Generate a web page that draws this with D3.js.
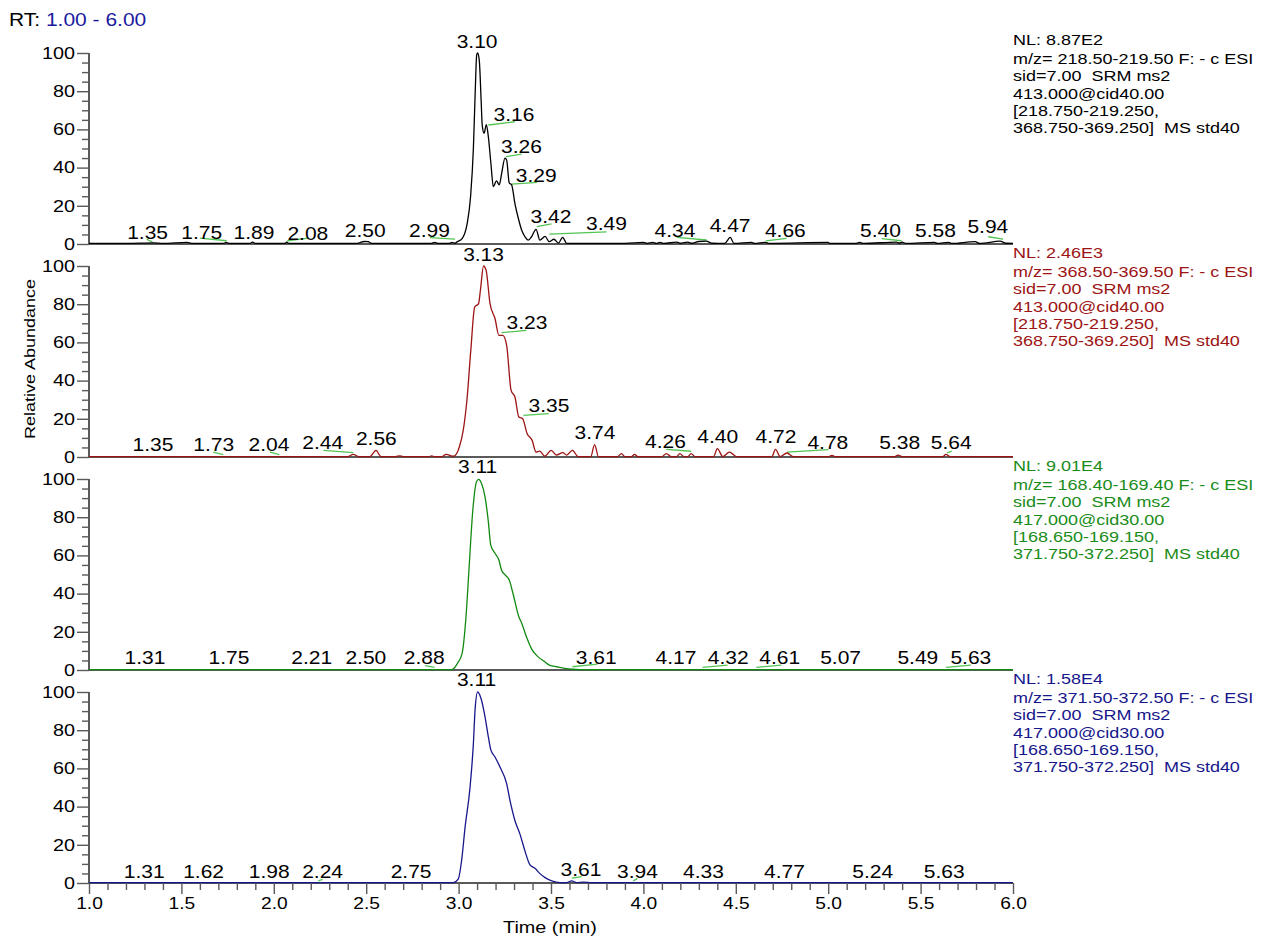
<!DOCTYPE html>
<html>
<head>
<meta charset="utf-8">
<script src="https://cdn.jsdelivr.net/npm/d3@7"></script>
<style>
  body { margin: 0; background: #fff; }
  svg { font-family: "Liberation Sans", Arial, sans-serif; }
  text { white-space: pre; }
</style>
</head>
<body>
<svg id="chart" width="1263" height="936"></svg>
<script>
// chromatogram traces: [time (min), relative abundance %]
const trace1 = [
  [1.00,0.3],[1.20,0.3],[1.35,0.6],[1.40,0.3],[1.53,0.9],[1.56,0.3],[1.73,0.3],[1.74,0.9],[1.76,0.3],
  [1.87,0.3],[1.885,1.0],[1.90,0.3],[2.06,0.3],[2.07,1.0],[2.08,0.3],[2.45,0.3],[2.49,1.3],[2.51,1.2],
  [2.53,0.3],[2.85,0.3],[2.87,0.9],[2.89,0.3],[2.95,0.3],[2.965,0.9],[2.98,0.4],[2.99,1.0],[3.02,3.0],
  [3.045,10],[3.065,25],[3.08,50],[3.09,80],[3.098,99],[3.103,100],[3.112,96],[3.122,75],[3.128,62],
  [3.138,58],[3.15,62.5],[3.16,57],[3.175,42],[3.188,30],[3.205,33],[3.22,31],[3.233,37],[3.251,45],
  [3.26,44],[3.274,32],[3.287,31],[3.305,21],[3.323,13.5],[3.341,7.3],[3.359,3.8],[3.377,2],[3.395,3.8],
  [3.419,7.7],[3.44,2],[3.468,4],[3.49,1.2],[3.516,2.5],[3.54,0.5],[3.563,3.5],[3.585,0.3],[3.9,0.3],
  [4.0,0.8],[4.02,0.3],[4.05,0.8],[4.07,0.3],[4.09,0.9],[4.11,0.3],[4.18,1.0],[4.20,0.4],[4.24,1.0],
  [4.26,0.4],[4.30,1.3],[4.34,1.5],[4.37,0.4],[4.44,0.3],[4.47,3.5],[4.49,0.3],[4.585,0.9],[4.60,0.3],
  [4.66,0.9],[4.68,0.3],[5.00,0.8],[5.01,0.3],[5.15,0.3],[5.17,0.9],[5.19,0.3],[5.37,1.0],[5.385,0.4],
  [5.40,1.0],[5.42,0.3],[5.575,0.9],[5.59,0.3],[5.65,0.9],[5.67,0.3],[5.795,1.2],[5.82,0.3],[5.93,1.5],
  [5.96,0.4],[6.00,0.3]
];
const trace2 = [
  [1.00,0.2],[2.40,0.2],[2.43,1.4],[2.46,0.2],[2.52,0.2],[2.553,3.5],[2.58,0.2],[2.66,0.2],[2.68,0.6],
  [2.70,0.2],[2.84,0.2],[2.854,0.6],[2.87,0.2],[2.91,0.2],[2.932,1.4],[2.973,0.4],[3.004,5.2],[3.025,13.9],
  [3.045,29.7],[3.066,55.8],[3.087,78.5],[3.108,80.3],[3.118,87.3],[3.135,100],[3.149,97.7],[3.17,80.3],
  [3.197,72.5],[3.218,63.7],[3.239,63.7],[3.26,58.5],[3.284,34.9],[3.305,31.4],[3.326,20.9],[3.346,20.1],
  [3.371,12.2],[3.398,8.7],[3.419,2.6],[3.439,3.1],[3.466,0.4],[3.501,3.5],[3.529,1.0],[3.564,2.3],
  [3.585,1.0],[3.616,3.5],[3.647,0.2],[3.715,0.2],[3.736,6.5],[3.757,0.2],[3.86,0.2],[3.881,1.8],
  [3.90,0.2],[3.935,0.2],[3.952,1.4],[3.97,0.2],[4.10,0.2],[4.124,1.8],[4.15,0.2],[4.18,0.2],[4.197,1.8],
  [4.22,0.2],[4.24,0.2],[4.258,1.8],[4.28,0.2],[4.38,0.2],[4.40,4.4],[4.43,0.2],[4.466,2.6],[4.503,0.2],
  [4.695,0.2],[4.715,4.0],[4.74,0.2],[4.777,2.1],[4.81,0.2],[5.00,0.2],[5.02,0.8],[5.04,0.2],[5.36,0.2],
  [5.378,1.0],[5.40,0.2],[5.62,0.2],[5.637,1.4],[5.66,0.2],[6.00,0.2]
];
const trace3 = [
  [1.00,0.2],[2.963,0.2],[2.994,3.5],[3.019,8.7],[3.04,27.9],[3.056,52.4],[3.077,83.8],[3.097,98.6],
  [3.108,99.8],[3.124,97.7],[3.143,90.7],[3.16,78.5],[3.174,65.4],[3.197,61.1],[3.218,57.6],[3.232,52.4],
  [3.253,49.7],[3.274,47.1],[3.294,40.2],[3.326,27.9],[3.342,24.4],[3.367,17.4],[3.398,10.5],[3.429,7.0],
  [3.461,4.7],[3.491,2.6],[3.533,1.7],[3.575,0.9],[3.616,0.4],[3.657,0.2],[6.00,0.2]
];
const trace4 = [
  [1.00,0.2],[2.971,0.2],[2.998,2.0],[3.016,11.6],[3.035,29.1],[3.062,50.2],[3.08,73],[3.089,90.5],
  [3.103,100],[3.121,96.7],[3.143,87],[3.161,76.5],[3.174,69.8],[3.197,66],[3.224,60.7],[3.26,52],
  [3.278,43.2],[3.305,32.6],[3.332,25.6],[3.359,16.8],[3.386,9.5],[3.413,7.7],[3.44,4.9],[3.468,2.8],
  [3.504,1.1],[3.549,0.2],[3.585,0.2],[3.612,1.1],[3.639,0.2],[3.675,0.5],[3.72,0.2],[6.00,0.2]
];

// peak labels: [text, time of label, abundance of label baseline]
const peaks1 = [
  ['1.35',1.317,2.5],['1.75',1.61,2.8],['1.89',1.893,2.8],['2.08',2.184,2.1],['2.50',2.495,3.8],
  ['2.99',2.842,3.8],['3.10',3.10,102.5],['3.16',3.30,64.4],['3.26',3.34,47.5],['3.29',3.42,32.6],
  ['3.42',3.50,10.8],['3.49',3.80,7.3],['4.34',4.171,3.8],['4.47',4.469,6.4],['4.66',4.768,3.8],
  ['5.40',5.283,3.8],['5.58',5.58,3.7],['5.94',5.864,5.8]
];
const peaks2 = [
  ['1.35',1.346,3.0],['1.73',1.675,3.0],['2.04',1.974,3.0],['2.44',2.265,4.0],['2.56',2.555,6.1],
  ['3.13',3.135,102.5],['3.23',3.37,66.9],['3.35',3.489,23.6],['3.74',3.738,9.6],['4.26',4.119,4.9],
  ['4.40',4.402,7.3],['4.72',4.717,7.3],['4.78',4.998,4.0],['5.38',5.387,4.0],['5.64',5.666,4.0]
];
const peaks3 = [
  ['1.31',1.303,2.9],['1.75',1.757,2.9],['2.21',2.205,2.9],['2.50',2.498,2.9],['2.88',2.814,2.9],
  ['3.11',3.103,102.9],['3.61',3.745,3.1],['4.17',4.176,3.1],['4.32',4.459,3.1],['4.61',4.738,3.1],
  ['5.07',5.067,3.1],['5.49',5.485,3.1],['5.63',5.772,3.1]
];
const peaks4 = [
  ['1.31',1.299,2.5],['1.62',1.62,2.5],['1.98',1.975,2.5],['2.24',2.264,2.5],['2.75',2.743,2.5],
  ['3.11',3.097,103.2],['3.61',3.662,3.7],['3.94',3.968,2.8],['4.33',4.325,2.8],['4.77',4.763,2.8],
  ['5.24',5.241,2.8],['5.63',5.628,2.8]
];

// integration baselines: [t1, v1, t2, v2]
const segs1 = [
  [1.312,2.5,1.344,1.0],[1.601,3.1,1.745,1.7],[2.073,1.7,2.187,3.1],[2.845,3.3,2.981,2.5],
  [3.161,62.3,3.305,64.0],[3.256,45.7,3.341,47.0],[3.287,31.3,3.426,32.3],[3.423,9.1,3.503,10.5],
  [3.491,5.2,3.801,6.4],[4.18,3.5,4.342,2.1],[4.662,1.6,4.775,3.0],[5.289,2.8,5.397,1.7],[5.866,3.8,5.947,2.6]
];
const segs2 = [
  [1.672,2.6,1.727,1.3],[1.979,2.6,2.03,1.3],[2.268,3.5,2.43,2.3],[3.232,65.1,3.367,66.3],
  [3.351,21.8,3.488,22.7],[4.124,4.0,4.259,3.0],[4.777,2.6,5.001,3.9],[5.643,2.1,5.668,3.1]
];
const segs3 = [
  [2.818,2.3,2.87,1.4],[3.616,1.7,3.751,3.1],[4.32,1.4,4.455,2.6],[4.611,1.4,4.746,2.6],[5.637,1.4,5.772,2.6]
];
const segs4 = [
  [2.241,1.1,2.264,1.9],[3.612,2.5,3.666,3.3],[3.945,1.1,3.967,2.3]
];

const normLevels = ['8.87E2', '2.46E3', '9.01E4', '1.58E4'];
const scanInfo = [
  ['m/z= 218.50-219.50 F: - c ESI', 'sid=7.00  SRM ms2', '413.000@cid40.00', '[218.750-219.250,', '368.750-369.250]  MS std40'],
  ['m/z= 368.50-369.50 F: - c ESI', 'sid=7.00  SRM ms2', '413.000@cid40.00', '[218.750-219.250,', '368.750-369.250]  MS std40'],
  ['m/z= 168.40-169.40 F: - c ESI', 'sid=7.00  SRM ms2', '417.000@cid30.00', '[168.650-169.150,', '371.750-372.250]  MS std40'],
  ['m/z= 371.50-372.50 F: - c ESI', 'sid=7.00  SRM ms2', '417.000@cid30.00', '[168.650-169.150,', '371.750-372.250]  MS std40']
];
const yTicks = [0, 20, 40, 60, 80, 100];
const yMinor = [5, 10, 15, 25, 30, 35, 45, 50, 55, 65, 70, 75, 85, 90, 95];
const xTicks = [1.0, 1.5, 2.0, 2.5, 3.0, 3.5, 4.0, 4.5, 5.0, 5.5, 6.0];
const xMinor = [1.1,1.2,1.3,1.4,1.6,1.7,1.8,1.9,2.1,2.2,2.3,2.4,2.6,2.7,2.8,2.9,3.1,3.2,3.3,3.4,
  3.6,3.7,3.8,3.9,4.1,4.2,4.3,4.4,4.6,4.7,4.8,4.9,5.1,5.2,5.3,5.4,5.6,5.7,5.8,5.9];

const traces = [trace1, trace2, trace3, trace4];
const peaks = [peaks1, peaks2, peaks3, peaks4];
const segs = [segs1, segs2, segs3, segs4];
const colors = ['#000000', '#9c1414', '#128a12', '#17178c'];
const textColors = ['#000000', '#9c1414', '#1a8c1a', '#17178c'];

const SX = 1.2;   // the original glyphs are drawn wide
const left = 89, right = 1013, top0 = 53, panelH = 191, step = 213;
const svg = d3.select('#chart');
const axisColor = '#5a5a5a';

const x = d3.scaleLinear().domain([1, 6]).range([left, right]);

function wideText(g, px, py, str, size, anchor, fill) {
    return g.append('text')
        .attr('transform', `translate(${px},${py}) scale(${SX},1)`)
        .attr('text-anchor', anchor)
        .style('font-size', size + 'px')
        .attr('fill', fill)
        .text(str);
}

// RT range title
const rt = svg.append('text')
    .attr('transform', `translate(9,26) scale(${SX},1)`)
    .style('font-size', '17.5px');
rt.append('tspan').attr('fill', '#000').text('RT: ');
rt.append('tspan').attr('fill', '#1a1aa0').text('1.00 - 6.00');

traces.forEach((trace, i) => {
    const yTop = top0 + i * step;
    const y = d3.scaleLinear().domain([0, 100]).range([yTop + panelH, yTop]);
    const g = svg.append('g');

    // minor and major y ticks
    const minorAxis = g.append('g')
        .attr('transform', `translate(${left},0)`)
        .call(d3.axisLeft(y).tickValues(yMinor).tickSize(7).tickFormat(''));
    const majorAxis = g.append('g')
        .attr('transform', `translate(${left},0)`)
        .call(d3.axisLeft(y).tickValues(yTicks).tickSize(12).tickFormat(d3.format('d')));
    [minorAxis, majorAxis].forEach(a => {
        a.select('.domain').remove();
        a.selectAll('line').attr('stroke', axisColor).attr('stroke-width', 1.4);
    });
    majorAxis.selectAll('text')
        .attr('x', -14 / SX)
        .attr('transform', `scale(${SX},1)`)
        .attr('fill', '#000')
        .style('font-size', '16.5px')
        .style('font-family', '"Liberation Sans", Arial, sans-serif');

    // y axis line and zero baseline
    g.append('line')
        .attr('x1', left).attr('x2', left)
        .attr('y1', y(100)).attr('y2', y(0))
        .attr('stroke', axisColor).attr('stroke-width', 2);
    g.append('line')
        .attr('x1', x(1)).attr('x2', x(6))
        .attr('y1', y(0)).attr('y2', y(0))
        .attr('stroke', axisColor).attr('stroke-width', 2);

    // integration baselines
    g.selectAll('.seg')
        .data(segs[i])
        .enter()
        .append('line')
        .attr('x1', d => x(d[0])).attr('y1', d => y(d[1]))
        .attr('x2', d => x(d[2])).attr('y2', d => y(d[3]))
        .attr('stroke', '#52c452').attr('stroke-width', 1.3);

    // trace
    const line = d3.line()
        .x(d => x(d[0]))
        .y(d => y(d[1]))
        .curve(d3.curveMonotoneX);
    g.append('path')
        .datum(trace)
        .attr('d', line)
        .attr('fill', 'none')
        .attr('stroke', colors[i])
        .attr('stroke-width', 1.3);

    // peak labels
    peaks[i].forEach(p => {
        wideText(g, x(p[1]), y(p[2]), p[0], 17.5, 'middle', '#000');
    });

    // normalisation level and scan filter text
    wideText(g, right, y(100) - 8, 'NL: ' + normLevels[i], 15, 'start', textColors[i]);
    scanInfo[i].forEach((s, k) => {
        wideText(g, right, y(100) + 11 + k * 17.3, s, 15, 'start', textColors[i]);
    });

    // time axis on the bottom panel only
    if (i === traces.length - 1) {
        const xm = g.append('g')
            .attr('transform', `translate(0,${y(0)})`)
            .call(d3.axisBottom(x).tickValues(xMinor).tickSize(7).tickFormat(''));
        const xM = g.append('g')
            .attr('transform', `translate(0,${y(0)})`)
            .call(d3.axisBottom(x).tickValues(xTicks).tickSize(11).tickFormat(d3.format('.1f')));
        [xm, xM].forEach(a => {
            a.select('.domain').remove();
            a.selectAll('line').attr('stroke', axisColor).attr('stroke-width', 1.4);
        });
        xM.selectAll('text')
            .attr('y', 15)
            .attr('transform', `scale(${SX},1)`)
            .attr('fill', '#000')
            .style('font-size', '16px')
            .style('font-family', '"Liberation Sans", Arial, sans-serif');
        wideText(svg, 550, y(0) + 50, 'Time (min)', 16.5, 'middle', '#000');
    }
});

// y axis title
svg.append('text')
    .attr('transform', `translate(35,359) rotate(-90) scale(${SX},1)`)
    .attr('text-anchor', 'middle')
    .style('font-size', '15px')
    .text('Relative Abundance');
</script>
</body>
</html>
